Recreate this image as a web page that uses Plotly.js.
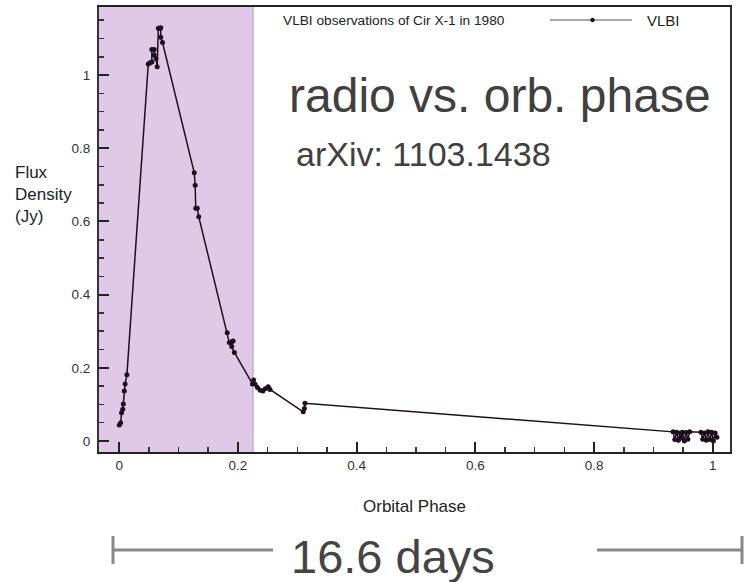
<!DOCTYPE html>
<html>
<head>
<meta charset="utf-8">
<script src="https://cdn.plot.ly/plotly-3.0.1.min.js"></script>
<style>
  html, body { margin: 0; padding: 0; background: #ffffff; }
  #chart { width: 744px; height: 582px; }
</style>
</head>
<body>
<div id="chart"></div>
<script>
// ---- Data (VLBI observations of Cir X-1, 1980) ----
const orbitalPhase = [
  0.0002, 0.0025, 0.004, 0.006, 0.007, 0.0086, 0.010, 0.013,
  0.049, 0.052, 0.055, 0.055, 0.059, 0.059, 0.062, 0.064,
  0.066, 0.069, 0.070, 0.070, 0.073,
  0.1265, 0.128, 0.129, 0.1316, 0.134,
  0.182, 0.1855, 0.1896, 0.192, 0.1896, 0.194,
  0.2245, 0.2265, 0.229, 0.233, 0.2375, 0.242, 0.246, 0.251, 0.254,
  0.310, 0.312, 0.313,
  0.933, 0.936, 0.939, 0.942, 0.945, 0.947, 0.949, 0.952, 0.955, 0.958, 0.961,
  0.980, 0.983, 0.986, 0.989, 0.992, 0.995, 0.998, 1.001, 1.004, 1.007
];
const fluxDensity = [
  0.044, 0.050, 0.077, 0.087, 0.101, 0.137, 0.156, 0.181,
  1.030, 1.034, 1.036, 1.070, 1.070, 1.055, 1.045, 1.023,
  1.128, 1.128, 1.129, 1.103, 1.089,
  0.733, 0.699, 0.636, 0.636, 0.613,
  0.296, 0.269, 0.271, 0.273, 0.258, 0.242,
  0.156, 0.167, 0.155, 0.146, 0.139, 0.137, 0.143, 0.148, 0.141,
  0.080, 0.089, 0.103,
  0.025, 0.004, 0.024, 0.002, 0.022, 0.008, 0.024, 0.000, 0.023, 0.005, 0.025,
  0.024, 0.005, 0.022, 0.002, 0.025, 0.004, 0.024, 0.000, 0.022, 0.010
];
const seriesName = "VLBI";
const highlightPhaseEnd = 0.2255;   // shaded periastron interval
const xTickLabels = ["0", "0.2", "0.4", "0.6", "0.8", "1"];
const xTickValues = [0, 0.2, 0.4, 0.6, 0.8, 1];
const yTickLabels = ["0", "0.2", "0.4", "0.6", "0.8", "1"];
const yTickValues = [0, 0.2, 0.4, 0.6, 0.8, 1];

const ink = "#1e0f1e";
const textFont = "Liberation Sans, Arial, Helvetica, sans-serif";

const trace = {
  type: "scatter",
  mode: "lines+markers",
  x: orbitalPhase,
  y: fluxDensity,
  name: seriesName,
  line: { color: ink, width: 1.5 },
  marker: { color: ink, size: 5, symbol: "circle" },
  showlegend: false
};

const L = 99, R = 14, T = 7, B = 130, W = 744, H = 582;
const pw = W - L - R, ph = H - T - B;
const px = v => (v - L) / pw;        // page px -> paper x
const py = v => (H - B - v) / ph;    // page px -> paper y

const bracketColor = "#888888";

const layout = {
  width: W, height: H,
  margin: { l: L, r: R, t: T, b: B, pad: 0 },
  paper_bgcolor: "#ffffff",
  plot_bgcolor: "#ffffff",
  font: { family: textFont, color: "#222" },
  showlegend: false,
  xaxis: {
    range: [-0.034, 1.029],
    tickmode: "array",
    tickvals: xTickValues,
    ticktext: xTickLabels,
    ticks: "inside", ticklen: 10, tickwidth: 2, tickcolor: "#222",
    minor: { tickmode: "linear", tick0: 0, dtick: 0.05, ticks: "inside", ticklen: 5, tickwidth: 1.5, tickcolor: "#333", showgrid: false },
    showline: true, linecolor: "#222", linewidth: 2, mirror: true,
    showgrid: false, zeroline: false,
    tickfont: { size: 13.5, color: "#333", family: textFont },
    title: { text: "Orbital Phase", font: { size: 17, color: "#222", family: textFont }, standoff: 28 }
  },
  yaxis: {
    range: [-0.030, 1.186],
    tickmode: "array",
    tickvals: yTickValues,
    ticktext: yTickLabels,
    ticks: "inside", ticklen: 10, tickwidth: 2, tickcolor: "#222",
    minor: { tickmode: "linear", tick0: 0, dtick: 0.05, ticks: "inside", ticklen: 5, tickwidth: 1.5, tickcolor: "#333", showgrid: false },
    showline: true, linecolor: "#333", linewidth: 2, mirror: true,
    showgrid: false, zeroline: false,
    tickfont: { size: 13.5, color: "#333", family: textFont },
    ticklabelstandoff: 4
  },
  shapes: [
    { type: "rect", layer: "below", xref: "x", yref: "paper",
      x0: -0.034, x1: highlightPhaseEnd, y0: 0, y1: 1,
      fillcolor: "#dfc9e6", line: { width: 0 } },
    { type: "line", layer: "below", xref: "x", yref: "paper",
      x0: highlightPhaseEnd, x1: highlightPhaseEnd, y0: 0, y1: 1,
      line: { color: "#a8a0aa", width: 1 } },
    // legend sample line and dot
    { type: "line", xref: "paper", yref: "paper",
      x0: px(550), x1: px(632), y0: py(20), y1: py(20),
      line: { color: "#555", width: 1.2 } },
    { type: "circle", xref: "paper", yref: "paper",
      x0: px(590.5), x1: px(594.5), y0: py(22), y1: py(18),
      fillcolor: "#111", line: { color: "#111", width: 0.5 } },
    // 16.6 days bracket
    { type: "line", xref: "paper", yref: "paper",
      x0: px(113), x1: px(113), y0: py(536), y1: py(564),
      line: { color: bracketColor, width: 3 } },
    { type: "line", xref: "paper", yref: "paper",
      x0: px(113), x1: px(273), y0: py(550), y1: py(550),
      line: { color: bracketColor, width: 3 } },
    { type: "line", xref: "paper", yref: "paper",
      x0: px(597), x1: px(742), y0: py(550), y1: py(550),
      line: { color: bracketColor, width: 3 } },
    { type: "line", xref: "paper", yref: "paper",
      x0: px(742), x1: px(742), y0: py(536), y1: py(564),
      line: { color: bracketColor, width: 3 } }
  ],
  annotations: [
    { xref: "paper", yref: "paper", x: px(281), y: py(20), xanchor: "left", yanchor: "middle",
      text: "VLBI observations of Cir X-1 in 1980", showarrow: false,
      font: { size: 13.7, color: "#222", family: textFont } },
    { xref: "paper", yref: "paper", x: px(645), y: py(20), xanchor: "left", yanchor: "middle",
      text: seriesName, showarrow: false,
      font: { size: 15, color: "#222", family: textFont } },
    { xref: "paper", yref: "paper", x: px(287), y: py(96), xanchor: "left", yanchor: "middle",
      text: "radio vs. orb. phase", showarrow: false,
      font: { size: 48, color: "#404040", family: textFont } },
    { xref: "paper", yref: "paper", x: px(294), y: py(154), xanchor: "left", yanchor: "middle",
      text: "arXiv: 1103.1438", showarrow: false,
      font: { size: 34, color: "#404040", family: textFont } },
    { xref: "paper", yref: "paper", x: px(13), y: py(194), xanchor: "left", yanchor: "middle",
      align: "left", text: "Flux<br>Density<br>(Jy)", showarrow: false,
      font: { size: 17, color: "#222", family: textFont } },
    { xref: "paper", yref: "paper", x: px(393), y: py(556), xanchor: "center", yanchor: "middle",
      text: "16.6 days", showarrow: false,
      font: { size: 47, color: "#444", family: textFont } }
  ]
};

Plotly.newPlot("chart", [trace], layout, { displayModeBar: false, staticPlot: true });
</script>
</body>
</html>
